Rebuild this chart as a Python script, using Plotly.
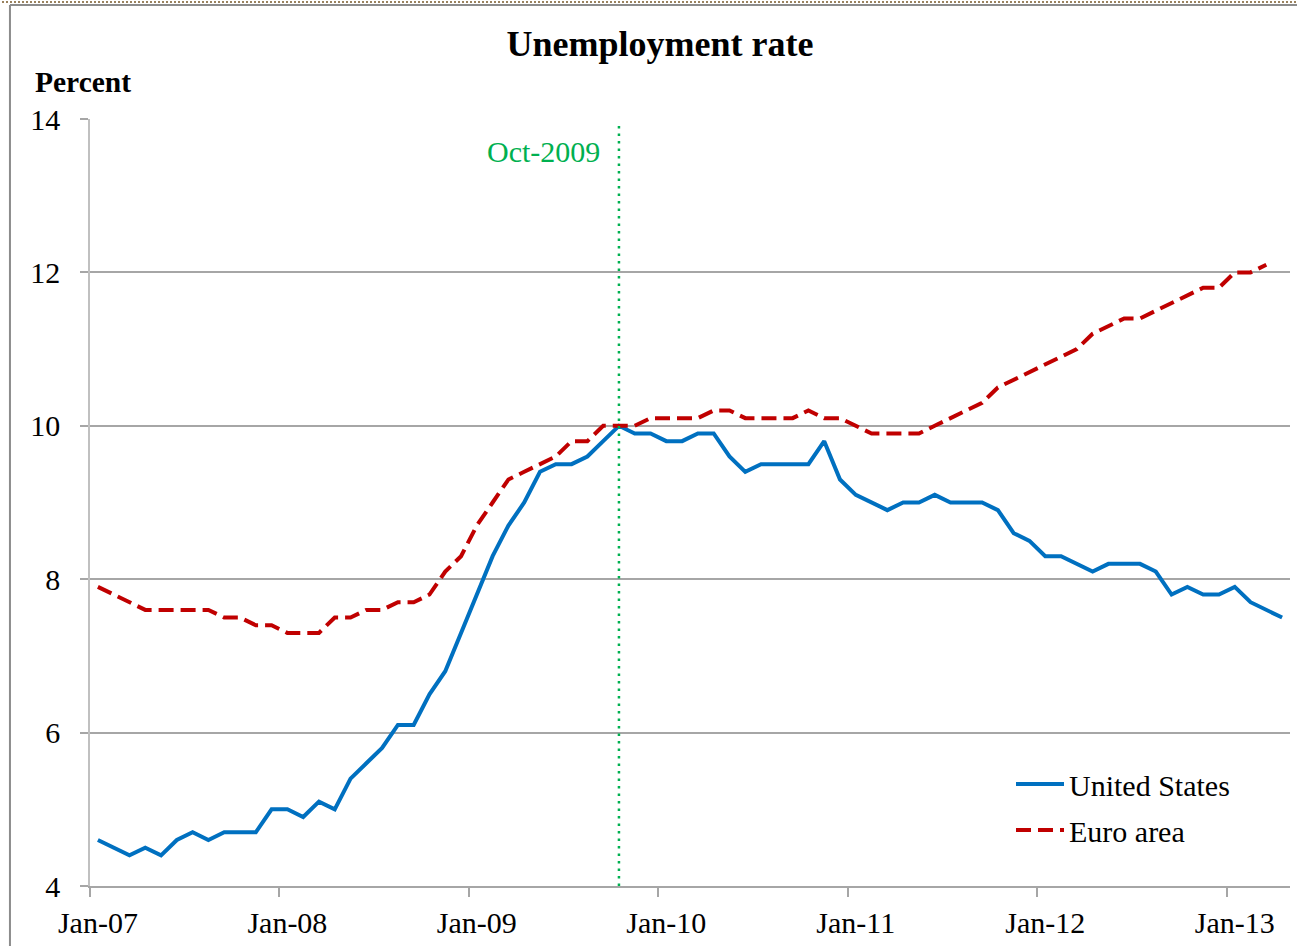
import plotly.graph_objects as go

months = []
for yr in range(2007, 2014):
    for m in ["Jan", "Feb", "Mar", "Apr", "May", "Jun", "Jul", "Aug", "Sep", "Oct", "Nov", "Dec"]:
        months.append(f"{m}-{str(yr)[2:]}")
months = months[:76]  # Jan-07 .. Apr-13

us_rate = [
    4.6, 4.5, 4.4, 4.5, 4.4, 4.6, 4.7, 4.6, 4.7, 4.7, 4.7, 5.0,
    5.0, 4.9, 5.1, 5.0, 5.4, 5.6, 5.8, 6.1, 6.1, 6.5, 6.8, 7.3,
    7.8, 8.3, 8.7, 9.0, 9.4, 9.5, 9.5, 9.6, 9.8, 10.0, 9.9, 9.9,
    9.8, 9.8, 9.9, 9.9, 9.6, 9.4, 9.5, 9.5, 9.5, 9.5, 9.8, 9.3,
    9.1, 9.0, 8.9, 9.0, 9.0, 9.1, 9.0, 9.0, 9.0, 8.9, 8.6, 8.5,
    8.3, 8.3, 8.2, 8.1, 8.2, 8.2, 8.2, 8.1, 7.8, 7.9, 7.8, 7.8,
    7.9, 7.7, 7.6, 7.5,
]

euro_rate = [
    7.9, 7.8, 7.7, 7.6, 7.6, 7.6, 7.6, 7.6, 7.5, 7.5, 7.4, 7.4,
    7.3, 7.3, 7.3, 7.5, 7.5, 7.6, 7.6, 7.7, 7.7, 7.8, 8.1, 8.3,
    8.7, 9.0, 9.3, 9.4, 9.5, 9.6, 9.8, 9.8, 10.0, 10.0, 10.0, 10.1,
    10.1, 10.1, 10.1, 10.2, 10.2, 10.1, 10.1, 10.1, 10.1, 10.2, 10.1, 10.1,
    10.0, 9.9, 9.9, 9.9, 9.9, 10.0, 10.1, 10.2, 10.3, 10.5, 10.6, 10.7,
    10.8, 10.9, 11.0, 11.2, 11.3, 11.4, 11.4, 11.5, 11.6, 11.7, 11.8, 11.8,
    12.0, 12.0, 12.1,
]

y_ticks = [4, 6, 8, 10, 12, 14]
marker_month = "Oct-09"
marker_label = "Oct-2009"

idx = list(range(len(months)))
label_pos = [i for i, m in enumerate(months) if m.startswith("Jan")]
label_txt = [months[i] for i in label_pos]
boundary_pos = [i - 0.5 for i in label_pos]
mark_i = months.index(marker_month)

FONT = "Liberation Serif"

fig = go.Figure()
fig.add_trace(go.Scatter(
    x=idx[:len(us_rate)], y=us_rate, mode="lines", name="United States",
    legendgroup="us",
    line=dict(color="#0070C0", width=4),
    customdata=months[:len(us_rate)], hovertemplate="%{customdata}: %{y}<extra></extra>",
))
fig.add_trace(go.Scatter(
    x=idx[:len(euro_rate)], y=euro_rate, mode="lines", name="Euro area",
    legendgroup="euro",
    line=dict(color="#C00000", width=4, dash="15px,7px"),
    customdata=months[:len(euro_rate)], hovertemplate="%{customdata}: %{y}<extra></extra>",
))

fig.add_shape(type="line", xref="x", yref="paper", x0=mark_i, x1=mark_i, y0=0, y1=0.996,
              line=dict(color="#00B050", width=2.5, dash="2.5px,5px"))
fig.add_annotation(x=mark_i, xref="x", y=0.957, yref="paper", text=marker_label,
                   showarrow=False, xanchor="right", yanchor="middle", xshift=-17,
                   font=dict(family=FONT, size=30, color="#00B050"))

# chart frame (page px -> paper coords: plot area x 90..1290, y 119..886)
fig.add_shape(type="line", xref="paper", yref="paper", x0=-0.0667, x1=-0.0667, y0=-0.1, y1=1.1486,
              line=dict(color="#8c8c8c", width=2))
fig.add_shape(type="line", xref="paper", yref="paper", x0=-0.0667, x1=1.01, y0=1.1486, y1=1.1486,
              line=dict(color="#8c8c8c", width=2))
fig.add_shape(type="line", xref="paper", yref="paper", x0=-0.08, x1=1.01, y0=1.1525, y1=1.1525,
              line=dict(color="#7a5a2a", width=1.5, dash="2px,2px"))

fig.add_annotation(x=-0.0475, xref="paper", y=1.048, yref="paper", text="<b>Percent</b>",
                   showarrow=False, xanchor="left", yanchor="middle",
                   font=dict(family=FONT, size=29.5, color="black"))

fig.update_layout(
    width=1297, height=946,
    margin=dict(l=90, r=7, t=119, b=60),
    paper_bgcolor="white", plot_bgcolor="white",
    title=dict(text="<b>Unemployment rate</b>", x=660 / 1297, xanchor="center", y=1 - 43 / 946, yanchor="middle",
               font=dict(family=FONT, size=36, color="black")),
    font=dict(family=FONT, size=30, color="black"),
    showlegend=True,
    legend=dict(x=0.7675, y=0.167, xanchor="left", yanchor="top", bgcolor="rgba(0,0,0,0)",
                font=dict(family=FONT, size=30, color="black"), itemwidth=48,
                tracegroupgap=4, traceorder="grouped"),
    xaxis=dict(range=[-0.5, len(months) - 0.5], tickmode="array", tickvals=label_pos, ticktext=label_txt,
               showgrid=False, showline=True, linecolor="#a6a6a6", linewidth=1.5,
               ticks="", tickfont=dict(family=FONT, size=30), zeroline=False,
               ticklabelstandoff=9,
               minor=dict(tickmode="array", tickvals=boundary_pos, ticks="outside", ticklen=9,
                          tickcolor="#a6a6a6", tickwidth=1.5, showgrid=False)),
    yaxis=dict(range=[4, 14], tickmode="array", tickvals=y_ticks,
               showgrid=True, gridcolor="#a6a6a6", gridwidth=1.5,
               showline=True, linecolor="#c0c0c0", linewidth=1.5,
               ticks="outside", ticklen=8, tickcolor="#a6a6a6", tickwidth=1.5,
               tickfont=dict(family=FONT, size=30), zeroline=False, ticklabelstandoff=14),
)

fig.write_html("out.html", config={"displayModeBar": False},
               post_script="document.body.style.margin='0';")
